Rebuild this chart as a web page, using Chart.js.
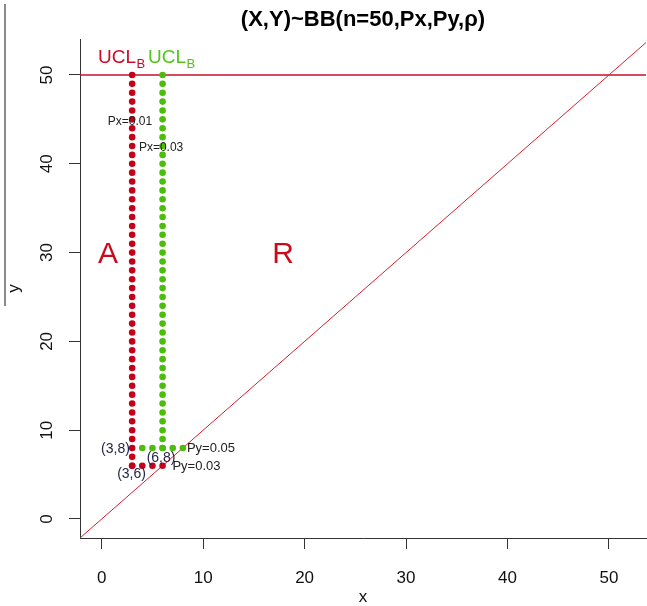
<!DOCTYPE html>
<html>
<head>
<meta charset="utf-8">
<script src="https://cdn.jsdelivr.net/npm/chart.js@4.4.1/dist/chart.umd.min.js"></script>
<style>
  html, body { margin: 0; padding: 0; background: #fff; overflow: hidden; }
  canvas { display: block; }
</style>
</head>
<body>
<canvas id="c" width="647" height="606"></canvas>
<script>
"use strict";
// tick labels
var xTicks = [0, 10, 20, 30, 40, 50];
var yTicks = [0, 10, 20, 30, 40, 50];

// UCL_B boundary for Px=0.01 / Py=0.03 (red)
var redColX = 3;
var redColY = [6, 7, 8, 9, 10, 11, 12, 13, 14, 15, 16, 17, 18, 19, 20, 21, 22, 23, 24, 25, 26, 27, 28,
  29, 30, 31, 32, 33, 34, 35, 36, 37, 38, 39, 40, 41, 42, 43, 44, 45, 46, 47, 48, 49, 50];
var redRowY = 6;
var redRowX = [3, 4, 5, 6];

// UCL_B boundary for Px=0.03 / Py=0.05 (green)
var greenColX = 6;
var greenColY = [8, 9, 10, 11, 12, 13, 14, 15, 16, 17, 18, 19, 20, 21, 22, 23, 24, 25, 26, 27, 28,
  29, 30, 31, 32, 33, 34, 35, 36, 37, 38, 39, 40, 41, 42, 43, 44, 45, 46, 47, 48, 49, 50];
var greenRowY = 8;
var greenRowX = [4, 5, 6, 7, 8];

// reference lines
var diagX = [-3, 56];
var nLimit = 50;

var RED = "#c4001a";
var GREEN = "#4cbd0a";
var FONT = "'Liberation Sans', Arial, sans-serif";

function pts(xs, ys) {
    var out = [];
    for (var i = 0; i < xs.length; i++) out.push({x: xs[i], y: ys[i]});
    return out;
}
function col(x, ys) { return pts(ys.map(function() { return x }), ys) }
function row(xs, y) { return pts(xs, xs.map(function() { return y })) }

// text annotations, placed in data units
var notes = [
    {t: "A", x: 0.62, y: 29.8, size: 30, color: "#cc0a1e", align: "center"},
    {t: "R", x: 17.87, y: 29.8, size: 30, color: "#cc0a1e", align: "center"},
    {t: "Px=0.01", x: 2.79, y: 44.7, size: 12, color: "#222", align: "center"},
    {t: "Px=0.03", x: 5.85, y: 41.8, size: 12, color: "#222", align: "center"},
    {t: "(3,8)", x: 1.36, y: 7.9, size: 14, color: "#24244a", align: "center"},
    {t: "(6,8)", x: 5.85, y: 6.9, size: 14, color: "#24244a", align: "center"},
    {t: "(3,6)", x: 2.94, y: 5.1, size: 14, color: "#24244a", align: "center"},
    {t: "Py=0.05", x: 10.77, y: 7.9, size: 13, color: "#222", align: "center"},
    {t: "Py=0.03", x: 9.34, y: 5.9, size: 13, color: "#222", align: "center"}
];
var uclNotes = [
    {x: -0.36, y: 51.3, color: "#cc0a2a"},
    {x: 4.56, y: 51.3, color: "#55c41a"}
];

var extras = {
    id: "extras",
    afterDraw: function(chart) {
        var ctx = chart.ctx, xs = chart.scales.x, ys = chart.scales.y;
        ctx.save();
        // y tick labels, rotated like R's
        ctx.fillStyle = "#111";
        ctx.font = "17px " + FONT;
        ctx.textAlign = "center";
        ctx.textBaseline = "middle";
        yTicks.forEach(function(v) {
            ctx.save();
            ctx.translate(47.5, ys.getPixelForValue(v));
            ctx.rotate(-Math.PI / 2);
            ctx.fillText(String(v), 0, 0);
            ctx.restore();
        });
        notes.forEach(function(n) {
            ctx.font = n.size + "px " + FONT;
            ctx.fillStyle = n.color;
            ctx.textAlign = n.align;
            ctx.textBaseline = "middle";
            ctx.fillText(n.t, xs.getPixelForValue(n.x), ys.getPixelForValue(n.y));
        });
        uclNotes.forEach(function(n) {
            var px = xs.getPixelForValue(n.x), py = ys.getPixelForValue(n.y);
            ctx.fillStyle = n.color;
            ctx.textAlign = "left";
            ctx.textBaseline = "alphabetic";
            ctx.font = "19px " + FONT;
            ctx.fillText("UCL", px, py);
            var w = ctx.measureText("UCL").width;
            ctx.font = "13px " + FONT;
            ctx.fillText("B", px + w + 0.5, py + 4.5);
        });
        // stray overline of the y label
        ctx.strokeStyle = "#8a8a8a";
        ctx.lineWidth = 2;
        ctx.beginPath();
        ctx.moveTo(5, 4);
        ctx.lineTo(5, 306);
        ctx.stroke();
        ctx.restore();
    }
};

new Chart(document.getElementById("c").getContext("2d"), {
    type: "scatter",
    data: {
        datasets: [
            {data: col(redColX, redColY), backgroundColor: RED, pointRadius: 3.3, borderWidth: 0, order: 1},
            {data: row(redRowX, redRowY), backgroundColor: RED, pointRadius: 3.3, borderWidth: 0, order: 1},
            {data: col(greenColX, greenColY), backgroundColor: GREEN, pointRadius: 3.3, borderWidth: 0, order: 2},
            {data: row(greenRowX, greenRowY), backgroundColor: GREEN, pointRadius: 3.3, borderWidth: 0, order: 2},
            {type: "line", data: pts(diagX, diagX), borderColor: "#d8202c", borderWidth: 1, pointRadius: 0, order: 3},
            {type: "line", data: row(diagX, nLimit), borderColor: "#c8102a", borderWidth: 1.6, pointRadius: 0, order: 3}
        ]
    },
    options: {
        responsive: false,
        animation: false,
        events: [],
        layout: {autoPadding: false, padding: {left: 0, right: 1, top: 0, bottom: 0}},
        plugins: {
            legend: {display: false},
            tooltip: {enabled: false},
            title: {
                display: true,
                text: "(X,Y)~BB(n=50,Px,Py,\u03c1)",
                color: "#000",
                fullSize: false,
                font: {family: FONT, size: 22, weight: "bold", lineHeight: "22px"},
                padding: {top: 9, bottom: 8}
            }
        },
        scales: {
            x: {
                type: "linear",
                position: "bottom",
                min: -2.14,
                max: 53.65,
                afterBuildTicks: function(s) { s.ticks = xTicks.map(function(v) { return {value: v} }) },
                afterFit: function(s) { s.height = 68; s.paddingLeft = 0; s.paddingRight = 0 },
                grid: {drawOnChartArea: false, drawTicks: true, tickLength: 11, color: "#333", tickWidth: 1},
                border: {display: true, color: "#333", width: 1},
                ticks: {color: "#111", font: {family: FONT, size: 17}, padding: 19, maxRotation: 0},
                title: {display: true, text: "x", color: "#111", font: {family: FONT, size: 17, lineHeight: "17px"}, padding: {top: 1, bottom: 0}}
            },
            y: {
                type: "linear",
                position: "left",
                min: -2.14,
                max: 54.05,
                afterBuildTicks: function(s) { s.ticks = yTicks.map(function(v) { return {value: v} }) },
                afterFit: function(s) { s.width = 80; s.paddingTop = 0; s.paddingBottom = 0 },
                grid: {drawOnChartArea: false, drawTicks: true, tickLength: 11, color: "#333", tickWidth: 1},
                border: {display: true, color: "#333", width: 1},
                ticks: {display: false},
                title: {display: true, text: "y", color: "#111", font: {family: FONT, size: 17, lineHeight: "17px"}, padding: {top: 5.5, bottom: 0}}
            }
        }
    },
    plugins: [extras]
});
</script>
</body>
</html>
